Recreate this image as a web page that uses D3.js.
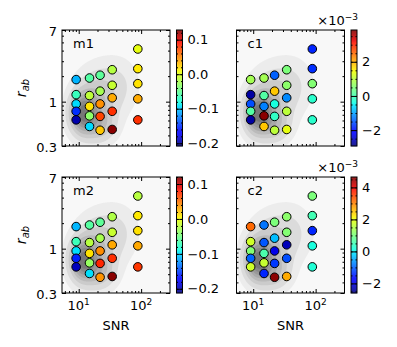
<!DOCTYPE html>
<html>
<head>
<meta charset="utf-8">
<script src="https://d3js.org/d3.v7.min.js"></script>
<style>
  body { margin: 0; background: #fff; }
  text { font-family: "DejaVu Sans", sans-serif; fill: #000; }
</style>
</head>
<body>
<svg id="chart"></svg>
<script>
// bin centres, column by column (5 SNR bins x 5 r_ab bins)
var snr = [9.1, 9.1, 9.1, 9.1, 9.1,
           14.9, 14.9, 14.9, 14.9, 14.9,
           22, 22, 22, 22, 22,
           34.4, 34.4, 34.4, 34.4, 34.4,
           88.5, 88.5, 88.5, 88.5, 88.5];
var rab = [1.82, 1.21, 0.94, 0.77, 0.61,
           1.90, 1.18, 0.88, 0.68, 0.51,
           2.05, 1.33, 0.94, 0.67, 0.46,
           2.38, 1.56, 1.11, 0.77, 0.47,
           4.18, 2.45, 1.63, 1.08, 0.61];

// bias values per bin
var m1 = [-0.107, -0.067, -0.094, -0.151, -0.195,
          -0.057, -0.013, 0.017, -0.033, -0.094,
          -0.053, -0.023, 0.047, 0.074, 0.027,
          -0.017, -0.010, 0.037, 0.081, 0.125,
          0.004, 0.014, 0.017, 0.037, 0.081];
var m2 = [-0.111, -0.071, -0.098, -0.160, -0.194,
          -0.061, -0.022, 0.011, -0.035, -0.098,
          -0.058, -0.028, 0.041, 0.077, 0.038,
          -0.025, -0.015, 0.031, 0.074, 0.117,
          -0.022, 0.008, 0.011, 0.031, 0.071];
// c values in units of 1e-3
var c1 = [0.80, -2.73, -1.57, 0.13, -2.73,
          0.80, 0.13, -1.23, 3.80, 1.82,
          -1.44, 1.82, -0.35, -0.15, 1.00,
          0.47, 0.60, -1.16, 1.00, 1.35,
          -1.84, -1.78, 0.53, -0.21, -0.21];
var c2 = [3.20, 1.75, 1.10, -1.00, 1.75,
          -0.86, -1.08, 0.59, 1.68, -1.44,
          1.03, -0.35, -1.95, -1.30, 4.58,
          1.17, 1.10, -2.24, -1.15, 2.69,
          1.03, 0.52, -1.44, 0.16, 0.23];

var m1Range = [-0.208, 0.128];
var m2Range = [-0.212, 0.12];
var c1Range = [-2.93, 3.86];
var c2Range = [-2.6, 4.65];
var mTicks = [-0.2, -0.1, 0.0, 0.1];
var c1Ticks = [-2, 0, 2];
var c2Ticks = [-2, 0, 2, 4];

var xMajor = [10, 100];
var xMinor = [6, 7, 8, 9, 20, 30, 40, 50, 60, 70, 80, 90, 200];
var yMajor = [0.3, 1, 7];
var yMinor = [0.4, 0.5, 0.6, 0.7, 0.8, 0.9, 2, 3, 4, 5, 6];

// background galaxy density, as gaussian blobs in log(SNR), log(r_ab)
var blobSNR = [11.5, 18, 40, 22];
var blobRab = [0.72, 0.95, 1.55, 0.52];
var blobSx = [0.14, 0.22, 0.24, 0.17];
var blobSy = [0.16, 0.24, 0.22, 0.13];
var blobW = [1.0, 0.5, 0.22, 0.35];

var W = 108, H = 116;

var svg = d3.select('#chart').attr('width', 397).attr('height', 347);

var x = d3.scaleLog().domain([5.4, 290]).range([0, W]);
var y = d3.scaleLog().domain([0.3, 7]).range([H, 0]);

function jet(t) {
  t = Math.max(0, Math.min(1, t));
  function seg(p) {
    for (var i = 1; i < p.length; i++) {
      if (t <= p[i][0]) return p[i-1][1] + (p[i][1] - p[i-1][1]) * (t - p[i-1][0]) / (p[i][0] - p[i-1][0]);
    }
    return p[p.length-1][1];
  }
  var r = seg([[0,0],[0.35,0],[0.66,1],[0.89,1],[1,0.5]]);
  var g = seg([[0,0],[0.125,0],[0.375,1],[0.64,1],[0.91,0],[1,0]]);
  var b = seg([[0,0.5],[0.11,1],[0.34,1],[0.65,0],[1,0]]);
  return d3.rgb(r*255, g*255, b*255).formatHex();
}

// density grid (same for every panel)
var grid = [];
for (var j = 0; j < H; j++) {
  for (var i = 0; i < W; i++) {
    var u = Math.log10(x.invert(i + 0.5)), v = Math.log10(y.invert(j + 0.5));
    var s = 0;
    blobW.forEach(function(w, k) {
      var du = (u - Math.log10(blobSNR[k])) / blobSx[k];
      var dv = (v - Math.log10(blobRab[k])) / blobSy[k];
      s += w * Math.exp(-0.5 * (du*du + dv*dv));
    });
    grid.push(s);
  }
}
var gmax = d3.max(grid);
var levels = [0.05, 0.14, 0.26, 0.38, 0.5, 0.62, 0.74, 0.86].map(function(f) { return f * gmax; });
var contours = d3.contours().size([W, H]).thresholds(levels)(grid);
var grey = d3.scaleLinear().domain([0, levels.length - 1]).range(['#ececec', '#777777']);

var panels = [
  {name: 'm1', vals: m1, range: m1Range, ticks: mTicks, fmt: d3.format('.1f'), left: 62, top: 30, xlab: false, ylab: true},
  {name: 'c1', vals: c1, range: c1Range, ticks: c1Ticks, fmt: d3.format('d'), left: 236.5, top: 30, xlab: false, ylab: false, offset: true, minor: 0.5},
  {name: 'm2', vals: m2, range: m2Range, ticks: mTicks, fmt: d3.format('.1f'), left: 62, top: 177, xlab: true, ylab: true},
  {name: 'c2', vals: c2, range: c2Range, ticks: c2Ticks, fmt: d3.format('d'), left: 236.5, top: 177, xlab: true, ylab: false, offset: true, minor: 0.5}
];

function ticksIn(g, axis, tx, ty) {
  g.append('g').attr('transform', 'translate(' + tx + ',' + ty + ')').call(axis)
    .call(function(s) { s.select('.domain').remove(); s.selectAll('text').remove(); s.selectAll('line').attr('stroke', '#000'); });
}

panels.forEach(function(p) {
  var g = svg.append('g').attr('transform', 'translate(' + p.left + ',' + p.top + ')');
  g.append('rect').attr('width', W).attr('height', H).attr('fill', '#f8f8f8');

  g.append('g').selectAll('path').data(contours).join('path')
    .attr('d', d3.geoPath())
    .attr('fill', function(d, i) { return grey(i); });

  var color = function(v) { return jet((v - p.range[0]) / (p.range[1] - p.range[0])); };
  g.append('g').selectAll('circle').data(p.vals).join('circle')
    .attr('cx', function(d, i) { return x(snr[i]); })
    .attr('cy', function(d, i) { return y(rab[i]); })
    .attr('r', 4.3)
    .attr('fill', function(d) { return color(d); })
    .attr('stroke', '#000').attr('stroke-width', 1);

  // inward ticks on all four sides
  ticksIn(g, d3.axisBottom(x).tickValues(xMajor).tickSize(-4), 0, H);
  ticksIn(g, d3.axisBottom(x).tickValues(xMinor).tickSize(-2), 0, H);
  ticksIn(g, d3.axisTop(x).tickValues(xMajor).tickSize(-4), 0, 0);
  ticksIn(g, d3.axisTop(x).tickValues(xMinor).tickSize(-2), 0, 0);
  ticksIn(g, d3.axisLeft(y).tickValues(yMajor).tickSize(-4), 0, 0);
  ticksIn(g, d3.axisLeft(y).tickValues(yMinor).tickSize(-2), 0, 0);
  ticksIn(g, d3.axisRight(y).tickValues(yMajor).tickSize(-4), W, 0);
  ticksIn(g, d3.axisRight(y).tickValues(yMinor).tickSize(-2), W, 0);

  g.append('rect').attr('width', W).attr('height', H)
    .attr('fill', 'none').attr('stroke', '#000').attr('stroke-width', 1);

  g.append('text').attr('x', 11).attr('y', 18).style('font-size', '13px').text(p.name);

  if (p.ylab) {
    g.selectAll('.ytl').data(yMajor).join('text')
      .attr('x', -5).attr('y', function(d) { return y(d) + 1; })
      .attr('text-anchor', 'end').attr('dy', '0.35em')
      .style('font-size', '13px').text(function(d) { return d; });
    var yl = g.append('text').attr('transform', 'translate(-36,' + (H / 2) + ') rotate(-90)')
      .attr('text-anchor', 'middle').style('font-size', '14px');
    yl.append('tspan').style('font-style', 'italic').text('r');
    yl.append('tspan').attr('dy', 3).style('font-size', '10px').style('font-style', 'italic').text('ab');
  }
  if (p.xlab) {
    xMajor.forEach(function(d) {
      var t = g.append('text').attr('x', x(d)).attr('y', H + 16.5)
        .attr('text-anchor', 'middle').style('font-size', '13px');
      t.append('tspan').text('10');
      t.append('tspan').attr('dy', -5).style('font-size', '9px').text(Math.round(Math.log10(d)));
    });
    g.append('text').attr('x', W / 2).attr('y', H + 37).attr('text-anchor', 'middle')
      .style('font-size', '13px').text('SNR');
  }

  // colorbar
  var cb = svg.append('g').attr('transform', 'translate(' + (p.left + W + 6.5) + ',' + p.top + ')');
  var cw = 6;
  var cy = d3.scaleLinear().domain(p.range).range([H, 0]);
  cb.selectAll('rect.s').data(d3.range(H * 2)).join('rect')
    .attr('x', 0).attr('width', cw)
    .attr('y', function(k) { return k / 2; }).attr('height', 0.7)
    .attr('fill', function(k) { return jet(1 - (k + 0.5) / (H * 2)); });
  var step = p.minor || 0.02;
  var minors = d3.range(Math.ceil(p.range[0] / step - 1e-6), Math.floor(p.range[1] / step + 1e-6) + 1)
    .map(function(k) { return k * step; });
  ticksIn(cb, d3.axisLeft(cy).tickValues(minors).tickSize(-1.5), 0, 0);
  ticksIn(cb, d3.axisRight(cy).tickValues(minors).tickSize(-1.5), cw, 0);
  ticksIn(cb, d3.axisLeft(cy).tickValues(p.ticks).tickSize(-3), 0, 0);
  ticksIn(cb, d3.axisRight(cy).tickValues(p.ticks).tickSize(-3), cw, 0);
  cb.append('rect').attr('width', cw).attr('height', H)
    .attr('fill', 'none').attr('stroke', '#000').attr('stroke-width', 1);
  cb.selectAll('.ctl').data(p.ticks).join('text')
    .attr('x', cw + 5).attr('y', function(d) { return cy(d); }).attr('dy', '0.36em')
    .style('font-size', '13px').text(function(d) { return p.fmt(d); });
  if (p.offset) {
    var ot = cb.append('text').attr('x', cw + 1).attr('y', -5).attr('text-anchor', 'end')
      .style('font-size', '13px');
    ot.append('tspan').text('\u00d710');
    ot.append('tspan').attr('dy', -5).style('font-size', '9px').text('\u22123');
  }
});
</script>
</body>
</html>
